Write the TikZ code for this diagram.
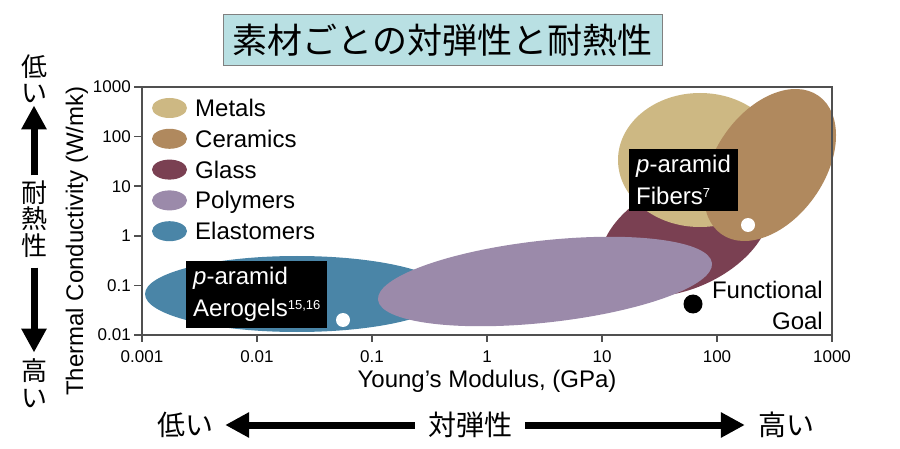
\documentclass[tikz,border=0pt]{standalone}
\usepackage{fontspec}
\setmainfont{Liberation Sans}
\newfontfamily\jpfont{Noto Sans CJK JP}
\usetikzlibrary{
    arrows.meta   % Triangle arrow tips
}

\definecolor{titlecyan}{RGB}{185,224,227}
\definecolor{metalcol}{RGB}{205,184,131}
\definecolor{ceramcol}{RGB}{176,137,94}
\definecolor{glasscol}{RGB}{122,64,82}
\definecolor{polycol}{RGB}{155,138,170}
\definecolor{elastcol}{RGB}{74,133,167}
\definecolor{axisgray}{RGB}{80,80,80}

\newcommand{\refsup}[1]{\raisebox{7pt}{\fontsize{13}{13}\selectfont #1}}

\tikzset{
    axisline/.style={draw=axisgray, line width=1.6pt},
    ticklabel/.style={font=\fontsize{17}{20}\selectfont, inner sep=0pt},
    axistitle/.style={font=\fontsize{24}{28}\selectfont, inner sep=0pt},
    legendtext/.style={font=\fontsize{24}{28}\selectfont, anchor=base west, inner sep=0pt},
    labelbox/.style={fill=black, text=white, font=\fontsize{24}{32}\selectfont,
        align=left, inner xsep=7pt, inner ysep=6pt, anchor=north west},
    goaltext/.style={font=\fontsize{24}{31}\selectfont, align=right, inner sep=0pt, anchor=north east},
    titlebox/.style={draw=gray, line width=1pt, fill=titlecyan, minimum width=439pt,
        minimum height=51pt, inner sep=0pt, font=\jpfont\fontsize{35}{40}\selectfont},
    jpside/.style={font=\jpfont\fontsize{26}{26.5}\selectfont, align=center, inner sep=0pt},
    jpbottom/.style={font=\jpfont\fontsize{28}{30}\selectfont, inner sep=0pt},
    bigarrow/.style={line width=7pt, -{Triangle[length=24pt,width=24pt]}},
    dot/.style={circle, inner sep=0pt, minimum size=#1},
}

\begin{document}
\begin{tikzpicture}[x=1pt,y=-1pt]
    \useasboundingbox (0,0) rectangle (900,449);

    \node[titlebox] (title) at (442.5,40.5) {素材ごとの対弾性と耐熱性};

    % material regions
    \fill[elastcol] (297,294) ellipse [x radius=152, y radius=38];
    \fill[glasscol, rotate around={25:(685,235)}] (685,235) ellipse [x radius=90, y radius=53];
    \fill[polycol, rotate around={6.3:(545,281.5)}] (545,281.5) ellipse [x radius=168, y radius=41];
    \fill[metalcol] (700,160) ellipse [x radius=82, y radius=67];
    \fill[ceramcol, rotate around={55:(770,165)}] (770,165) ellipse [x radius=84.5, y radius=54.7];

    % legend
    \foreach \name/\col [count=\i from 0] in {Metals/metalcol, Ceramics/ceramcol,
            Glass/glasscol, Polymers/polycol, Elastomers/elastcol} {
        \fill[\col] (169.5,108+30.8*\i) ellipse [x radius=17.5, y radius=10];
        \node[legendtext] (leg\i) at (195,116.6+30.8*\i) {\name};
    }

    % axes
    \draw[axisline] (142,87) rectangle (832,335);
    \foreach \lab [count=\i from 0] in {0.001,0.01,0.1,1,10,100,1000} {
        \draw[axisline] (142+115*\i,335) -- (142+115*\i,342);
        \node[ticklabel, anchor=base] (xt\i) at (142+115*\i,362) {\lab};
    }
    \foreach \lab [count=\i from 0] in {0.01,0.1,1,10,100,1000} {
        \draw[axisline] (134,335-49.6*\i) -- (142,335-49.6*\i);
        \node[ticklabel, anchor=east] (yt\i) at (131,335-49.6*\i) {\lab};
    }
    \node[axistitle, anchor=base] (xtitle) at (487,387) {Young’s Modulus, (GPa)};
    \node[axistitle, rotate=90, anchor=base] (ytitle) at (83,241) {Thermal Conductivity (W/mk)};

    % samples
    \node[dot=14pt, fill=white] (fiberdot) at (748,225) {};
    \node[dot=14pt, fill=white] (aerodot) at (343,320) {};
    \node[dot=19pt, fill=black] (goaldot) at (693,304) {};
    \node[labelbox] (fiberlabel) at (629,149) {\textit{p}-aramid\\Fibers\refsup{7}};
    \node[labelbox] (aerolabel) at (186,261) {\textit{p}-aramid\\Aerogels\refsup{15,16}};
    \node[goaltext] (goallabel) at (823,280.5) {Functional\\Goal};

    % side scale
    \node[jpside] (heatlow) at (34,79) {低\\い};
    \node[jpside] (heatmid) at (34,219) {耐\\熱\\性};
    \node[jpside] (heathigh) at (34,383) {高\\い};
    \draw[bigarrow, shorten <=5pt, shorten >=2pt] (heatmid) -- (heatlow);
    \draw[bigarrow, shorten <=10pt, shorten >=6pt] (heatmid) -- (heathigh);

    % bottom scale
    \node[jpbottom] (modlow) at (185,425) {低い};
    \node[jpbottom] (modmid) at (470,425) {対弾性};
    \node[jpbottom] (modhigh) at (786,425) {高い};
    \draw[bigarrow, shorten <=13pt, shorten >=12pt] (modmid) -- (modlow);
    \draw[bigarrow, shorten <=13pt, shorten >=13pt] (modmid) -- (modhigh);
\end{tikzpicture}
\end{document}
